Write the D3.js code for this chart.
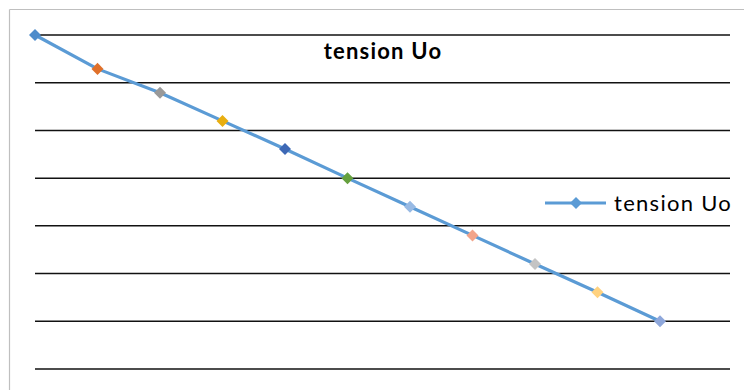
<!DOCTYPE html>
<html>
<head>
<meta charset="utf-8">
<script src="https://cdn.jsdelivr.net/npm/d3@7"></script>
<style>
  html, body { margin: 0; padding: 0; background: #fff; }
  svg { display: block; font-family: Lato, "Open Sans", sans-serif; }
</style>
</head>
<body>
<svg id="chart" width="744" height="390"></svg>
<script>
// Series: tension Uo, one value per measurement step
const categories = ["1", "2", "3", "4", "5", "6", "7", "8", "9", "10", "11"];
const values = [7.0, 6.29, 5.79, 5.20, 4.61, 4.0, 3.40, 2.80, 2.20, 1.61, 1.0];
const yTicks = [0, 1, 2, 3, 4, 5, 6, 7];
// Per-point marker colours (Office palette, varied by point)
const pointColors = ["#4E8CCB", "#E0702A", "#999999", "#E8AE10", "#3D68B5", "#65A03E",
                     "#98BAE4", "#F2A48A", "#C4C4C4", "#FFD280", "#8EA7DB"];
const seriesName = "tension Uo";
const lineColor = "#5B9BD5";

const svg = d3.select("#chart");
const W = 744, H = 390;
const plot = { left: 35, right: 730, top: 35, bottom: 369 };

// Chart frame (left and top edges visible)
svg.append("line").attr("x1", 9.5).attr("x2", 9.5).attr("y1", 9.5).attr("y2", H)
  .attr("stroke", "#BFBFBF").attr("stroke-width", 1.2);
svg.append("line").attr("x1", 9.5).attr("x2", W).attr("y1", 9.5).attr("y2", 9.5)
  .attr("stroke", "#BFBFBF").attr("stroke-width", 1.2);

const x = d3.scalePoint().domain(categories).range([35, 660]);
const y = d3.scaleLinear().domain([0, 7]).range([plot.bottom, plot.top]);

// Horizontal gridlines
svg.append("g").selectAll("line").data(yTicks).join("line")
  .attr("x1", plot.left).attr("x2", plot.right)
  .attr("y1", d => y(d)).attr("y2", d => y(d))
  .attr("stroke", "#111").attr("stroke-width", 1.5);

// Title
svg.append("text").attr("x", 383).attr("y", 59)
  .attr("text-anchor", "middle").attr("font-weight", "bold")
  .attr("font-size", 22).attr("letter-spacing", 1.2).attr("fill", "#000").text(seriesName);

const pts = values.map((v, i) => ({ c: categories[i], v, color: pointColors[i] }));

// Series line
svg.append("path").datum(pts)
  .attr("fill", "none").attr("stroke", lineColor).attr("stroke-width", 3.2)
  .attr("stroke-linejoin", "round")
  .attr("d", d3.line().x(d => x(d.c)).y(d => y(d.v)));

// Diamond markers
const diamond = d3.symbol().type(d3.symbolDiamond2).size(92);
svg.append("g").selectAll("path").data(pts).join("path")
  .attr("transform", d => `translate(${x(d.c)},${y(d.v)})`)
  .attr("d", diamond).attr("fill", d => d.color);

// Legend
const lg = svg.append("g").attr("transform", "translate(545,203)");
lg.append("line").attr("x1", 0).attr("x2", 61).attr("stroke", lineColor).attr("stroke-width", 3.2);
lg.append("path").attr("transform", "translate(31,0)").attr("d", diamond).attr("fill", lineColor);
lg.append("text").attr("x", 69).attr("y", 8).attr("font-size", 22).attr("letter-spacing", 1.3)
  .attr("fill", "#000").text(seriesName);
</script>
</body>
</html>
